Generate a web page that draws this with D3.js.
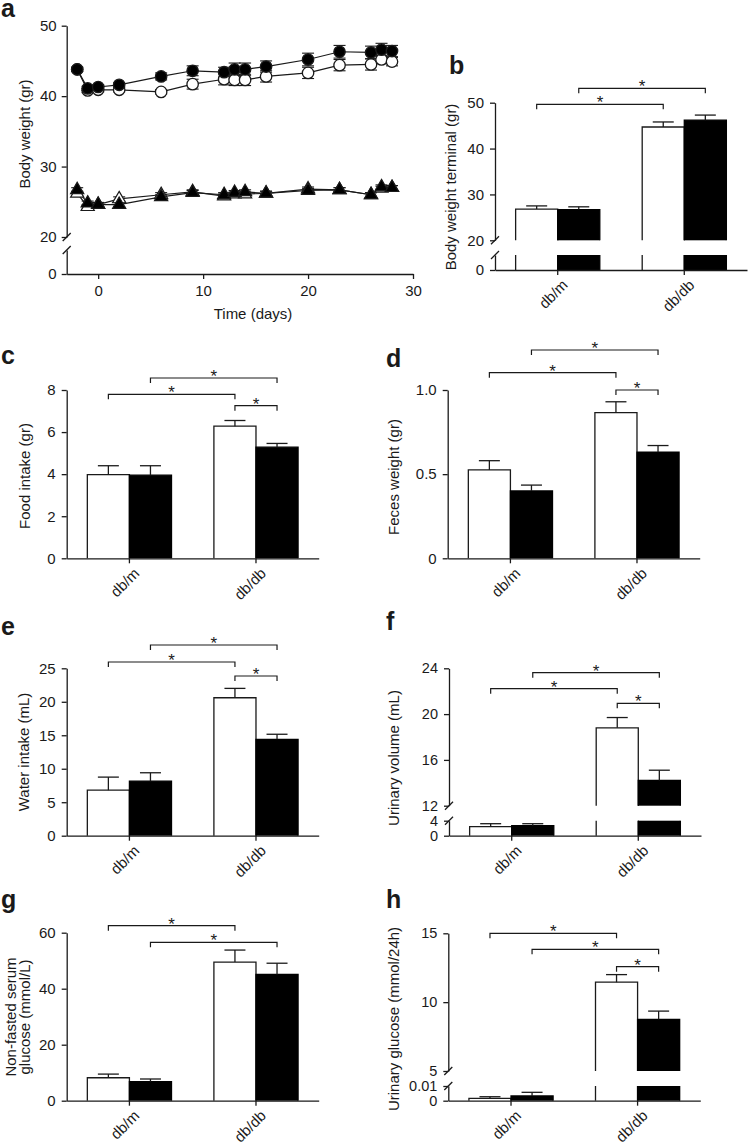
<!DOCTYPE html>
<html><head><meta charset="utf-8">
<script src="https://cdn.jsdelivr.net/npm/d3@7/dist/d3.min.js"></script>
<style>
body{margin:0;background:#fff}
svg{display:block}
text{font-family:"Liberation Sans",Arial,Helvetica,sans-serif;fill:#1a1a1a}
</style></head>
<body><svg id="fig" width="748" height="1144"></svg>
<script>
// ---------------- DATA ----------------
// Panel a: body weight over time
const days = [-2,-1,0,2,6,9,12,13,14,16,20,23,26,27,28];
const dbdbOpenBW   = [43.8,40.8,40.9,40.9,40.6,41.7,42.4,42.3,42.3,42.8,43.3,44.4,44.5,45.2,44.9];
const dbdbOpenErr  = [0.3,0.3,0.3,0.3,0.3,0.7,0.8,0.8,0.8,0.8,0.8,0.8,0.8,0.6,0.6];
const dbdbFilledBW = [43.8,41.1,41.3,41.6,42.8,43.6,43.4,43.8,43.8,44.2,45.2,46.3,46.2,46.6,46.4];
const dbdbFilledErr= [0.3,0.3,0.3,0.3,0.5,0.7,0.7,0.9,0.9,0.8,0.9,0.9,0.9,0.9,0.8];
const dbmOpenBW    = [26.2,24.3,24.6,25.4,26.0,26.4,25.8,26.1,26.1,26.2,26.8,26.7,26.0,26.9,27.0];
const dbmOpenErr   = [0.3,0.3,0.3,0.3,0.3,0.3,0.3,0.3,0.3,0.3,0.3,0.3,0.3,0.3,0.3];
const dbmFilledBW  = [26.7,24.8,24.6,24.6,25.7,26.3,26.0,26.3,26.4,26.2,26.6,26.7,26.0,27.1,27.0];
const dbmFilledErr = [0.3,0.3,0.3,0.3,0.3,0.3,0.3,0.3,0.3,0.3,0.3,0.3,0.3,0.3,0.3];
const timeTicks = [0,10,20,30];
const weightTicksUp = [20,30,40,50], weightTicksLow = [0];

// Bar panels: groups x series (open bar, filled bar)
const groups = ['db/m','db/db'];
const seriesNames = ['open','filled'];
const terminalBW    = [[26.8,26.7],[44.7,46.2]];
const terminalBWErr = [[0.7,0.6],[1.1,1.1]];
const foodIntake    = [[3.98,3.95],[6.28,5.28]];
const foodIntakeErr = [[0.42,0.45],[0.27,0.18]];
const fecesWeight    = [[0.525,0.40],[0.865,0.63]];
const fecesWeightErr = [[0.055,0.035],[0.065,0.04]];
const waterIntake    = [[6.8,8.15],[20.6,14.4]];
const waterIntakeErr = [[1.95,1.25],[1.4,0.75]];
const urineVolume    = [[2.4,2.65],[18.8,14.2]];
const urineVolumeErr = [[0.8,0.55],[0.9,0.9]];
const serumGlucose    = [[8.2,6.8],[49.5,45.1]];
const serumGlucoseErr = [[1.3,0.95],[4.3,4.0]];
const urineGlucose    = [[0.0016,0.0032],[11.45,8.75]];
const urineGlucoseErr = [[0.0011,0.0025],[0.55,0.6]];

// tick labels
const ticksB_up = [20,30,40,50], ticksB_low = [0];
const ticksC = [0,2,4,6,8];
const ticksD = [0,0.5,1.0];
const ticksE = [0,5,10,15,20,25];
const ticksF_up = [12,16,20,24], ticksF_low = [0,4];
const ticksG = [0,20,40,60];
const ticksH_up = [5,10,15], ticksH_low = [0,0.01];

// significance comparisons [group, series, group, series]
const sigB = [[0,0,1,0],[0,1,1,1]];
const sigC = [[0,0,1,0],[0,1,1,1],[1,0,1,1]];
const sigD = [[0,0,1,0],[0,1,1,1],[1,0,1,1]];
const sigE = [[0,0,1,0],[0,1,1,1],[1,0,1,1]];
const sigF = [[0,0,1,0],[0,1,1,1],[1,0,1,1]];
const sigG = [[0,0,1,0],[0,1,1,1]];
const sigH = [[0,0,1,0],[0,1,1,1],[1,0,1,1]];

// ---------------- DRAWING ----------------
const INK = '#1a1a1a';
const SW = 1.3;
const svg = d3.select('#fig');

function letter(t, x, y){
  svg.append('text').attr('x',x).attr('y',y).attr('font-size',25)
     .attr('font-weight','bold').text(t);
}
function yLabel(lines, xBase, yc){
  lines.forEach((ln,i)=>{
    svg.append('text').attr('transform',`translate(${xBase[i]},${yc}) rotate(-90)`)
      .attr('text-anchor','middle').attr('font-size',15).text(ln);
  });
}
function styleAxis(g, fs){
  g.attr('color',INK).attr('font-family',null).attr('font-size',null);
  g.selectAll('path,line').attr('stroke-width',SW);
  g.selectAll('text').attr('font-size',fs).style('fill',INK);
}
function slash(x,y){
  svg.append('line').attr('x1',x-4).attr('y1',y+4).attr('x2',x+4).attr('y2',y-4)
    .attr('stroke',INK).attr('stroke-width',SW);
}
function fmtTick(v){ return String(v); }

// ---- Panel a ----
(function(){
  letter('a', 1, 17);
  const x = d3.scaleLinear().domain([-3,30]).range([66.7,413]);
  const yUp = d3.scaleLinear().domain([20,50]).range([237,25.7]);
  const yLow = d3.scaleLinear().domain([0,5]).range([274,250]);
  const gx = svg.append('g').attr('transform','translate(0,274)')
    .call(d3.axisBottom(x).tickValues(timeTicks).tickSize(5).tickSizeOuter(0).tickPadding(6).tickFormat(fmtTick));
  styleAxis(gx,15);
  const gy1 = svg.append('g').attr('transform','translate(66.7,0)')
    .call(d3.axisLeft(yUp).tickValues(weightTicksUp).tickSize(5).tickSizeOuter(0).tickPadding(5).tickFormat(fmtTick));
  styleAxis(gy1,15);
  const gy2 = svg.append('g').attr('transform','translate(66.7,0)')
    .call(d3.axisLeft(yLow).tickValues(weightTicksLow).tickSize(5).tickSizeOuter(0).tickPadding(5).tickFormat(fmtTick));
  styleAxis(gy2,15);
  slash(66.7,237); slash(66.7,250);
  svg.append('text').attr('x',253).attr('y',319).attr('text-anchor','middle').attr('font-size',15).text('Time (days)');
  yLabel(['Body weight (gr)'],[30],134);

  const series = [
    {v:dbdbOpenBW, e:dbdbOpenErr, shape:'circle', fill:'#fff'},
    {v:dbdbFilledBW, e:dbdbFilledErr, shape:'circle', fill:'#000'},
    {v:dbmOpenBW, e:dbmOpenErr, shape:'tri', fill:'#fff'},
    {v:dbmFilledBW, e:dbmFilledErr, shape:'tri', fill:'#000'},
  ];
  const line = d3.line().x((d,i)=>x(days[i])).y(d=>yUp(d));
  series.forEach(s=>{
    const g = svg.append('g');
    days.forEach((d,i)=>{
      const cx = x(d), y1 = yUp(s.v[i]-s.e[i]), y2 = yUp(s.v[i]+s.e[i]);
      g.append('line').attr('x1',cx).attr('x2',cx).attr('y1',y1).attr('y2',y2).attr('stroke',INK).attr('stroke-width',1.1);
      [y1,y2].forEach(yy=>g.append('line').attr('x1',cx-6).attr('x2',cx+6).attr('y1',yy).attr('y2',yy).attr('stroke',INK).attr('stroke-width',1.1));
    });
  });
  series.forEach(s=>{
    svg.append('path').datum(s.v).attr('d',line).attr('fill','none').attr('stroke',INK).attr('stroke-width',1.2);
  });
  const tri = d3.symbol().type(d3.symbolTriangle).size(75);
  series.forEach(s=>{
    const g = svg.append('g');
    s.v.forEach((v,i)=>{
      if(s.shape==='circle'){
        g.append('circle').attr('cx',x(days[i])).attr('cy',yUp(v)).attr('r',5.7)
          .attr('fill',s.fill).attr('stroke',INK).attr('stroke-width',1.3);
      } else {
        g.append('path').attr('d',tri()).attr('transform',`translate(${x(days[i])},${yUp(v)})`)
          .attr('fill',s.fill).attr('stroke',INK).attr('stroke-width',1.2);
      }
    });
  });
})();

// ---- generic bar panel ----
function barPanel(cfg){
  const x0 = d3.scaleBand().domain(groups).range([cfg.ax, cfg.ax+252])
    .paddingInner(0.335).paddingOuter(0.163);
  const x1 = d3.scaleBand().domain(seriesNames).range([0, x0.bandwidth()]);
  const segs = cfg.segs.map(s=>{
    const sc = d3.scaleLinear().domain(s.domain).range(s.range);
    sc.ticksList = s.ticks; return sc;
  });
  const yOf = v => { for(const s of segs){ if(v <= s.domain()[1]) return s(Math.max(v,s.domain()[0])); } return segs[segs.length-1](v); };
  const axisY = segs[0].range()[0];

  // bars
  cfg.values.forEach((row,gi)=>{
    row.forEach((v,si)=>{
      const xl = x0(groups[gi]) + x1(seriesNames[si]);
      const w = x1.bandwidth();
      const filled = si===1;
      segs.forEach(s=>{
        const [d0,d1] = s.domain();
        if(v <= d0) return;
        const top = Math.min(v,d1);
        const yb = s(d0), yt = s(top);
        svg.append('rect').attr('x',xl).attr('y',yt).attr('width',w).attr('height',yb-yt)
          .attr('fill', filled?'#000':'#fff');
        let p = `M${xl},${yb}V${yt}`;
        p += (v<=d1) ? `H${xl+w}V${yb}` : `M${xl+w},${yt}V${yb}`;
        svg.append('path').attr('d',p).attr('fill','none').attr('stroke',filled?'#000':INK).attr('stroke-width',SW);
      });
      // error bar (upper)
      const cx = xl + w/2, e = cfg.errors[gi][si];
      const y1 = yOf(v), y2 = yOf(v+e);
      svg.append('line').attr('x1',cx).attr('x2',cx).attr('y1',y1).attr('y2',y2).attr('stroke',INK).attr('stroke-width',SW);
      svg.append('line').attr('x1',cx-10.5).attr('x2',cx+10.5).attr('y1',y2).attr('y2',y2).attr('stroke',INK).attr('stroke-width',SW);
    });
  });

  // axes
  segs.forEach((s,k)=>{
    const g = svg.append('g').attr('transform',`translate(${cfg.ax},0)`)
      .call(d3.axisLeft(s).tickValues(s.ticksList).tickSize(5).tickSizeOuter(0).tickPadding(6)
        .tickFormat(cfg.fmt || fmtTick));
    styleAxis(g, cfg.tickFs || 15);
  });
  if(segs.length>1){ slash(cfg.ax, segs[1].range()[0]); slash(cfg.ax, segs[0].range()[1]); }
  const gx = svg.append('g').attr('transform',`translate(0,${axisY})`)
    .call(d3.axisBottom(x0).tickSize(5).tickSizeOuter(0).tickFormat(''));
  styleAxis(gx,14);
  groups.forEach(gname=>{
    const cx = x0(gname) + x0.bandwidth()/2;
    svg.append('text').attr('transform',`translate(${cx+11},${axisY+16}) rotate(-45)`)
      .attr('text-anchor','end').attr('font-size',15).text(gname);
  });

  // significance brackets
  cfg.sig.forEach((c,k)=>{
    const xa = x0(groups[c[0]]) + x1(seriesNames[c[1]]) + x1.bandwidth()/2;
    const xb = x0(groups[c[2]]) + x1(seriesNames[c[3]]) + x1.bandwidth()/2;
    const yy = cfg.sigY[k];
    svg.append('path').attr('d',`M${xa},${yy+5}V${yy}H${xb}V${yy+5}`).attr('fill','none')
      .attr('stroke',INK).attr('stroke-width',1.2);
    svg.append('text').attr('x',(xa+xb)/2).attr('y',yy+4).attr('text-anchor','middle')
      .attr('font-size',17).text('*');
  });

  letter(cfg.letter, cfg.lx, cfg.ly);
  yLabel(cfg.ylabel, cfg.ylx, cfg.yly);
}

barPanel({letter:'b', lx:449, ly:74, ax:495,
  segs:[{domain:[0,20],range:[270,255],ticks:ticksB_low},{domain:[20,50],range:[240.3,102.7],ticks:ticksB_up}],
  values:terminalBW, errors:terminalBWErr, sig:sigB, sigY:[104.3,88.3],
  ylabel:['Body weight terminal (gr)'], ylx:[456], yly:187});

barPanel({letter:'c', lx:1, ly:364, ax:66.7,
  segs:[{domain:[0,8],range:[558.3,390],ticks:ticksC}],
  values:foodIntake, errors:foodIntakeErr, sig:sigC, sigY:[394.3,378,405.7],
  ylabel:['Food intake (gr)'], ylx:[30], yly:476});

barPanel({letter:'d', lx:386, ly:367, ax:447.7,
  segs:[{domain:[0,1],range:[558.3,390],ticks:ticksD}],
  fmt: v => v===0 ? '0' : d3.format('.1f')(v),
  values:fecesWeight, errors:fecesWeightErr, sig:sigD, sigY:[372.7,350,390],
  ylabel:['Feces weight (gr)'], ylx:[399], yly:477});

barPanel({letter:'e', lx:1, ly:635, ax:66.7,
  segs:[{domain:[0,25],range:[835.7,668.3],ticks:ticksE}],
  values:waterIntake, errors:waterIntakeErr, sig:sigE, sigY:[662,645,676],
  ylabel:['Water intake (mL)'], ylx:[29], yly:752});

barPanel({letter:'f', lx:386, ly:630, ax:449, tickFs:14.5,
  segs:[{domain:[0,4],range:[835.7,820.7],ticks:ticksF_low},{domain:[12,24],range:[805.7,668.3],ticks:ticksF_up}],
  values:urineVolume, errors:urineVolumeErr, sig:sigF, sigY:[688.7,672.7,703.3],
  ylabel:['Urinary volume (mL)'], ylx:[399], yly:758});

barPanel({letter:'g', lx:1, ly:908, ax:66.7,
  segs:[{domain:[0,60],range:[1100.7,932.7],ticks:ticksG}],
  values:serumGlucose, errors:serumGlucoseErr, sig:sigG, sigY:[925.7,942.3],
  ylabel:['Non-fasted serum','glucose (mmol/L)'], ylx:[16,30], yly:1017});

barPanel({letter:'h', lx:386, ly:908, ax:448.3, tickFs:14.5,
  segs:[{domain:[0,0.01],range:[1100.7,1086],ticks:ticksH_low},{domain:[5,15],range:[1071,933.3],ticks:ticksH_up}],
  values:urineGlucose, errors:urineGlucoseErr, sig:sigH, sigY:[933.3,949.3,966.7],
  ylabel:['Urinary glucose (mmol/24h)'], ylx:[399], yly:1019});
</script>
</body></html>
